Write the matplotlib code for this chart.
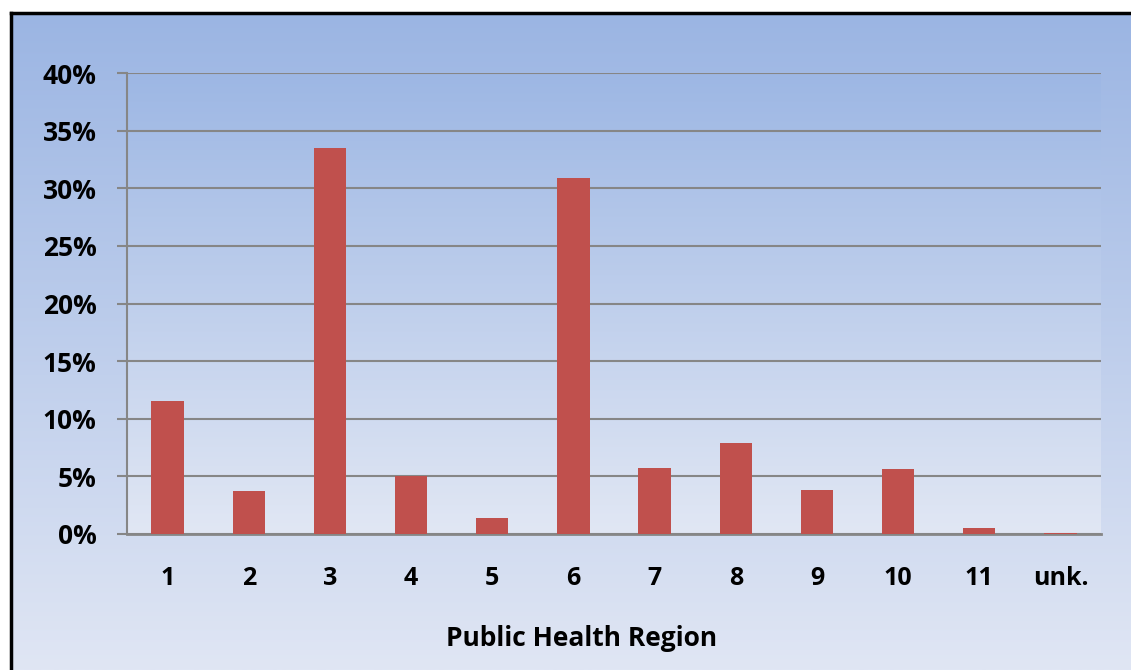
import numpy as np
import matplotlib
matplotlib.use('Agg')
import matplotlib.pyplot as plt
from matplotlib.colors import LinearSegmentedColormap
from matplotlib.ticker import PercentFormatter

# Share of cases by public health region (%)
regions = ['1', '2', '3', '4', '5', '6', '7', '8', '9', '10', '11', 'unk.']
share = [11.5, 3.7, 33.5, 5.0, 1.4, 30.9, 5.7, 7.9, 3.8, 5.6, 0.5, 0.1]

plt.rcParams['font.family'] = ['Open Sans', 'DejaVu Sans']
plt.rcParams['font.weight'] = 'bold'

W, H = 1131, 670
fig = plt.figure(figsize=(W / 100, H / 100), dpi=100)
fig.patch.set_facecolor('white')

# --- chart area background with gradient and black frame ---
bg = fig.add_axes([11 / W, 0, 1 - 11 / W, 1 - 13 / H])
bg_cmap = LinearSegmentedColormap.from_list('bg', ['#9bb5e3', '#e0e6f4'])
bg.imshow(np.linspace(0, 1, 256).reshape(-1, 1), aspect='auto', cmap=bg_cmap,
          extent=[0, 1, 0, 1])
bg.set_xticks([])
bg.set_yticks([])
for side in ['right', 'bottom']:
    bg.spines[side].set_visible(False)
for side in ['left', 'top']:
    bg.spines[side].set_linewidth(2.5)
    bg.spines[side].set_color('black')

# --- plot area ---
left, right, top, bottom = 127, 1101, 73, 534
ax = fig.add_axes([left / W, 1 - bottom / H, (right - left) / W, (bottom - top) / H])
ax.set_zorder(2)
pa_cmap = LinearSegmentedColormap.from_list('pa', ['#9db7e4', '#e1e7f4'])
ax.imshow(np.linspace(0, 1, 256).reshape(-1, 1), aspect='auto', cmap=pa_cmap,
          extent=[-0.5, len(regions) - 0.5, 0, 40], zorder=0)

x = np.arange(len(regions))
ax.bar(x, share, width=0.4, color='#c0504d', zorder=3)

ax.set_xlim(-0.5, len(regions) - 0.5)
ax.set_ylim(0, 40)
ax.set_yticks(np.arange(0, 41, 5))
ax.yaxis.set_major_formatter(PercentFormatter(decimals=0))
ax.grid(axis='y', color='#868686', linewidth=1.5, zorder=1)
ax.set_axisbelow(True)

ax.set_xticks(x)
ax.set_xticklabels(regions)
ax.tick_params(axis='x', length=0, pad=23, labelsize=18)
ax.tick_params(axis='y', length=7, width=1.5, color='#868686', pad=15, labelsize=19)

for side in ['top', 'right']:
    ax.spines[side].set_visible(False)
ax.spines['left'].set_color('#868686')
ax.spines['left'].set_linewidth(1.5)
ax.spines['bottom'].set_color('#868686')
ax.spines['bottom'].set_linewidth(2)

fig.text(582 / W, 1 - 639 / H, 'Public Health Region', ha='center', va='center',
         fontsize=19, fontweight='bold')

fig.savefig('out.png', dpi=100)
